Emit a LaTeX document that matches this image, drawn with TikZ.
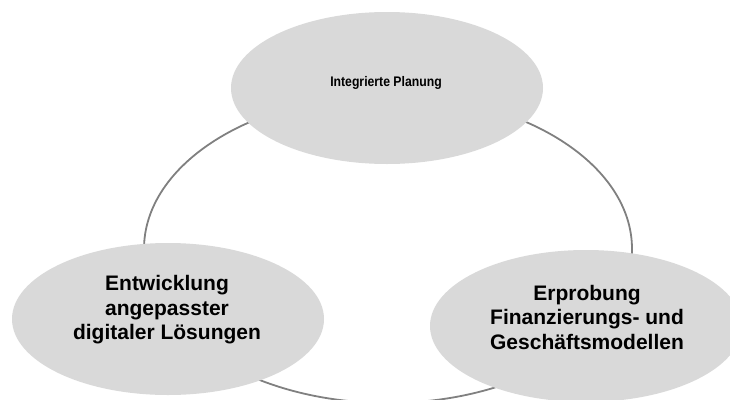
\documentclass[tikz,border=0pt]{standalone}
\usepackage{fontspec}
\setmainfont{Liberation Sans}
\newfontfamily\narrowsans[FakeStretch=0.88]{Liberation Sans}
\usetikzlibrary{shapes.geometric}
\definecolor{blobfill}{HTML}{D9D9D9}
\definecolor{ringline}{HTML}{808080}
\begin{document}
\begin{tikzpicture}[x=1pt,y=-1pt,
  blob/.style={ellipse, fill=blobfill, minimum width=312pt, minimum height=152pt, inner sep=0pt},
  ring/.style={ellipse, draw=ringline, line width=1.8pt, inner sep=0pt},
  bigtext/.style={font=\fontsize{21}{24.5}\selectfont\bfseries, align=center, inner sep=0pt},
  smalltext/.style={font=\narrowsans\fontsize{13.9}{16}\selectfont\bfseries, inner sep=0pt}]
\useasboundingbox (0,0) rectangle (730,399);
\clip (0,0) rectangle (730,399);
% the cycle linking the three fields
\node[ring, minimum width=488pt, minimum height=308pt] (cycle) at (388,249) {};
% the three fields
\node[blob] (plan) at (387,88) {};
\node[blob] (dev) at (168,319) {};
\node[blob] (fin) at (586,326) {};
% their labels
\node[smalltext] (plantxt) at (386,82.5) {Integrierte Planung};
\node[bigtext] (devtxt) at (167,310) {Entwicklung\\angepasster\\digitaler Lösungen};
\node[bigtext] (fintxt) at (587,317) {Erprobung\\Finanzierungs- und\\Geschäftsmodellen};
\end{tikzpicture}
\end{document}
